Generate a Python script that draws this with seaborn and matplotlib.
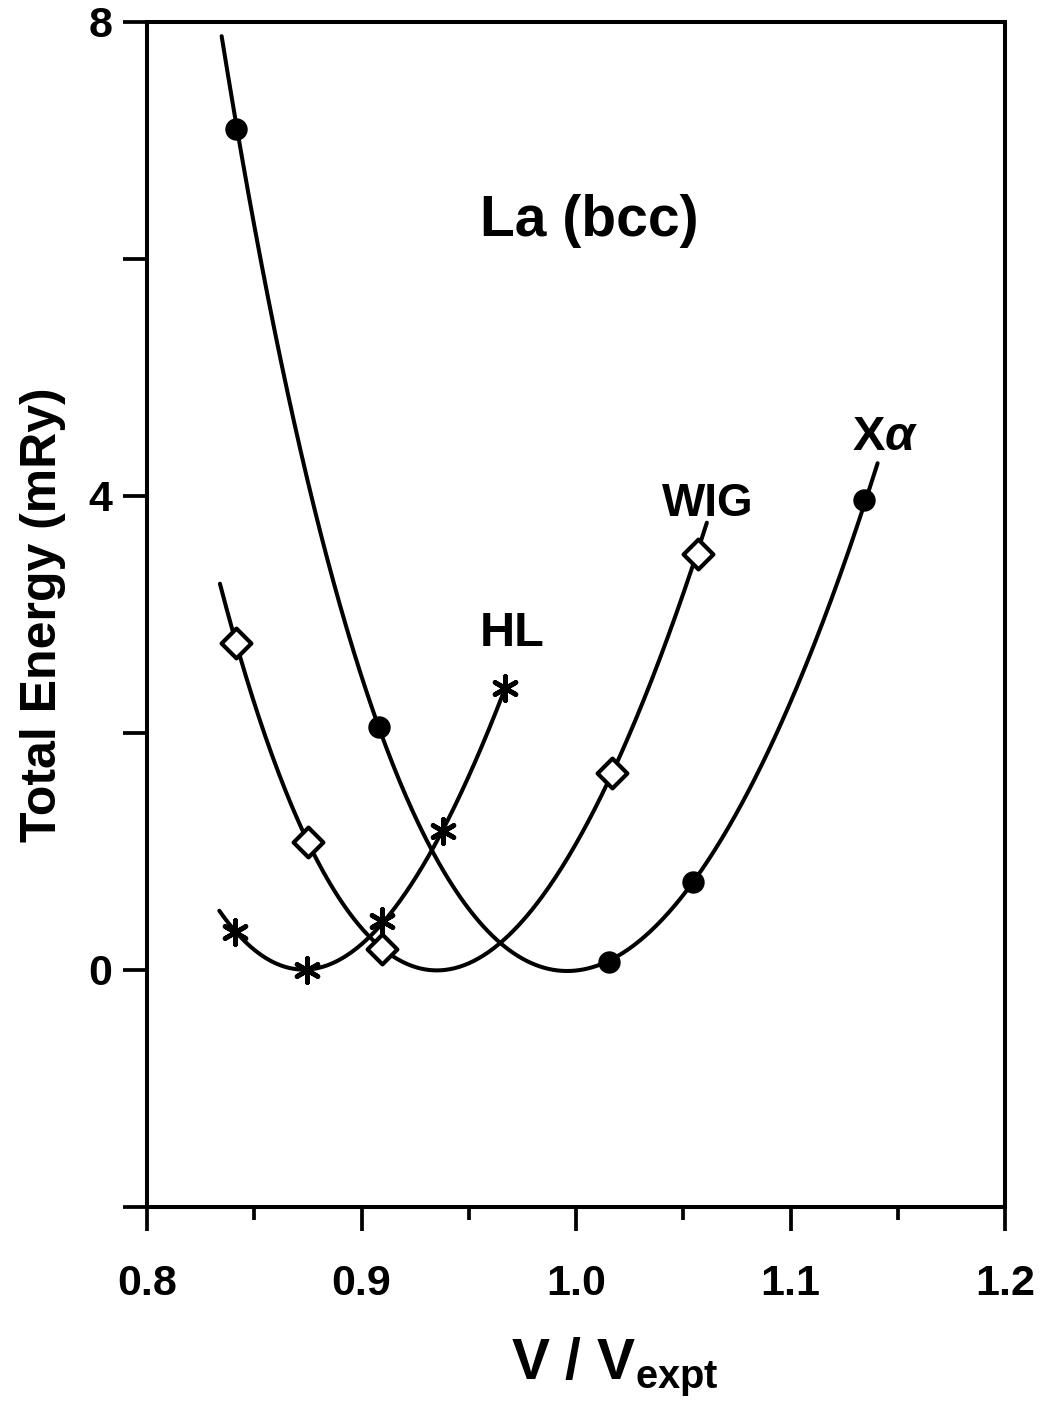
import numpy as np
import pandas as pd
import matplotlib
matplotlib.use("Agg")
import matplotlib.pyplot as plt
import seaborn as sns

# ---- data ----
xa_v = [0.8414, 0.9083, 1.0155, 1.0547, 1.1344]
xa_e = [7.10, 2.05, 0.07, 0.74, 3.97]
wig_v = [0.8415, 0.8752, 0.9094, 1.0166, 1.0570]
wig_e = [2.76, 1.08, 0.18, 1.66, 3.51]
hl_v = [0.8410, 0.8747, 0.9094, 0.9381, 0.9669]
hl_e = [0.32, 0.00, 0.41, 1.17, 2.38]

# points (start, minimum, end)
xa_trace_v = [0.8348, 0.9995, 1.1406]
xa_trace_e = [7.93, 0.00, 4.24]
wig_trace_v = [0.8340, 0.9390, 1.0610]
wig_trace_e = [3.26, 0.00, 3.81]
hl_trace_v = [0.8337, 0.8720]
hl_trace_e = [0.51, 0.00]

x_ticks = [0.8, 0.9, 1.0, 1.1, 1.2]
x_ticklabels = ["0.8", "0.9", "1.0", "1.1", "1.2"]
x_minor = [0.85, 0.95, 1.05, 1.15]
y_ticks = [-2, 0, 2, 4, 6, 8]
y_ticklabels = ["", "0", "", "4", "", "8"]

sns.set_style("ticks")
plt.rcParams["font.family"] = ["Liberation Sans", "DejaVu Sans"]
plt.rcParams["font.weight"] = "bold"
plt.rcParams["text.color"] = "black"
plt.rcParams["axes.labelcolor"] = "black"
plt.rcParams["xtick.color"] = "black"
plt.rcParams["ytick.color"] = "black"
plt.rcParams["mathtext.fontset"] = "custom"
plt.rcParams["mathtext.rm"] = "Liberation Sans:bold"
plt.rcParams["mathtext.bf"] = "Liberation Sans:bold"
plt.rcParams["mathtext.it"] = "Liberation Sans:italic"

fig = plt.figure(figsize=(10.42, 14.03), dpi=100)
ax = fig.add_axes([147 / 1042, 1 - 1207 / 1403, (1005 - 147) / 1042, (1207 - 22) / 1403])

LW = 2.9


def fit_curve(mv, me, tv, te, deg):
    xs = np.array(list(mv) + list(tv))
    ys = np.array(list(me) + list(te))
    coef = np.polyfit(xs, ys, deg)
    grid = np.linspace(xs.min(), xs.max(), 300)
    return pd.DataFrame({"V": grid, "E": np.polyval(coef, grid)})


for mv, me, tv, te, deg in [
    (xa_v, xa_e, xa_trace_v, xa_trace_e, 4),
    (wig_v, wig_e, wig_trace_v, wig_trace_e, 4),
    (hl_v, hl_e, hl_trace_v, hl_trace_e, 3),
]:
    df = fit_curve(mv, me, tv, te, deg)
    sns.lineplot(data=df, x="V", y="E", color="black", linewidth=LW,
                 estimator=None, sort=False, ax=ax)

sns.scatterplot(x=xa_v, y=xa_e, marker="o", s=260, color="black",
                edgecolor="black", linewidth=0, ax=ax, zorder=5)
sns.scatterplot(x=wig_v, y=wig_e, marker="D", s=230, facecolor="white",
                edgecolor="black", linewidth=3.0, ax=ax, zorder=5)
ax.scatter(hl_v, hl_e, marker=(6, 2, 0), s=300, color="black",
           linewidths=3.4, zorder=5)

ax.set_xlim(0.8, 1.2)
ax.set_ylim(-2, 8)
ax.set_xticks(x_ticks)
ax.set_xticklabels(x_ticklabels)
ax.set_xticks(x_minor, minor=True)
ax.set_yticks(y_ticks)
ax.set_yticklabels(y_ticklabels)

for s in ax.spines.values():
    s.set_linewidth(LW)
    s.set_color("black")

ax.tick_params(axis="both", which="major", direction="out", length=17,
               width=2.7, color="black", labelsize=31)
ax.tick_params(axis="x", which="major", pad=24)
ax.tick_params(axis="y", which="major", pad=8)
ax.tick_params(axis="x", which="minor", direction="out", length=9,
               width=2.7, color="black")

ax.set_xlabel(r"V / V$_{\mathbf{expt}}$", fontsize=41, fontweight="bold")
ax.xaxis.set_label_coords((615 - 147) / 858, -(1335 - 1207) / 1185)
ax.set_ylabel("Total Energy (mRy)", fontsize=36, fontweight="bold")
ax.yaxis.set_label_coords(-(147 - 66) / 858, 0.5)

ax.text(1.006, 6.32, "La (bcc)", fontsize=41, fontweight="bold",
        ha="center", va="center")
ax.text(0.9702, 2.84, "HL", fontsize=35, fontweight="bold",
        ha="center", va="center")
ax.text(1.0615, 3.93, "WIG", fontsize=33, fontweight="bold",
        ha="center", va="center")
ax.text(1.144, 4.49, r"X$\alpha$", fontsize=35, fontweight="bold",
        ha="center", va="center")

fig.savefig("out.png", dpi=100)
